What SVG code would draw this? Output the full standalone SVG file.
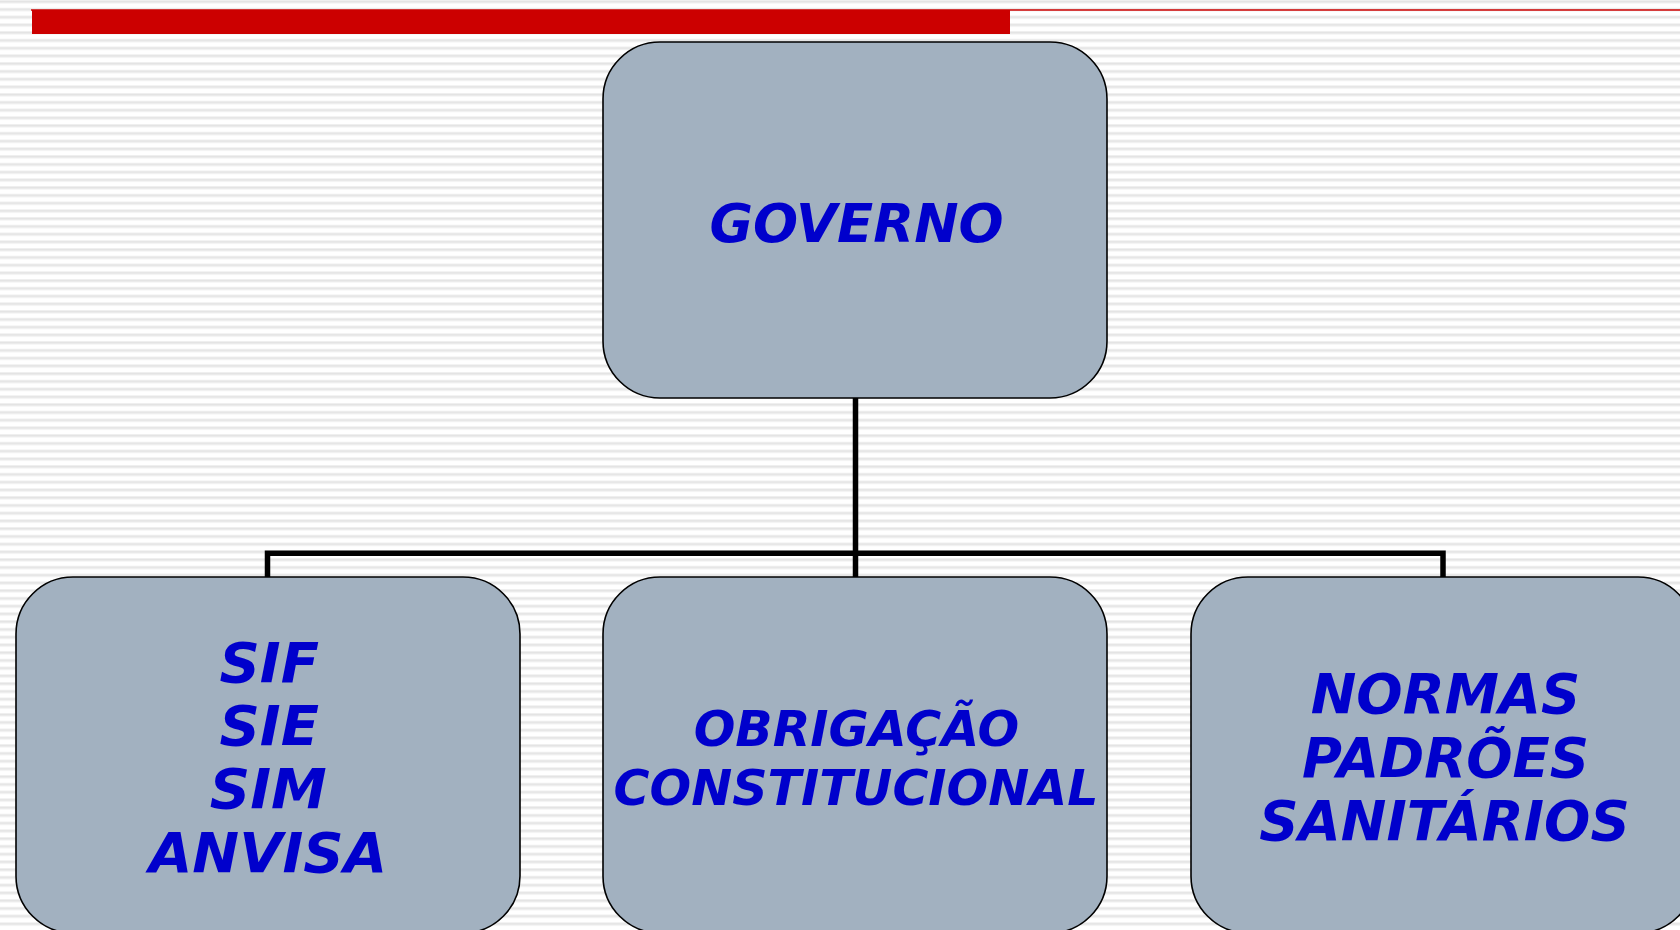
<svg xmlns="http://www.w3.org/2000/svg" width="1680" height="930" viewBox="0 0 1680 930">
  <defs>
    <pattern id="stripes" x="0" y="0" width="16" height="7.75" patternUnits="userSpaceOnUse">
      <rect x="0" y="0" width="16" height="7.75" fill="#ffffff"/>
      <rect x="0" y="0.2" width="16" height="1" fill="#ececec"/>
      <rect x="0" y="1.2" width="16" height="1.4" fill="#dedede"/>
      <rect x="0" y="2.6" width="16" height="0.8" fill="#efefef"/>
    </pattern>
    <style>
      .box { fill: #A2B1C0; stroke: #000000; stroke-width: 1.6; }
      .lbl { font-family: "DejaVu Sans", Verdana, sans-serif; font-weight: bold; font-style: italic; fill: #0000CC; text-anchor: middle; }
      .conn { fill: none; stroke: #000000; stroke-width: 5.5; stroke-linejoin: miter; stroke-linecap: butt; }
    </style>
  </defs>

  <rect x="0" y="0" width="1680" height="930" fill="url(#stripes)"/>

  <g id="header">
    <line x1="31" y1="10" x2="1680" y2="10" stroke="#CC0000" stroke-width="1.3"/>
    <rect x="32" y="10" width="978" height="24" fill="#CC0000"/>
  </g>

  <g id="connectors">
    <path class="conn" d="M855.5,398 V553.3"/>
    <path class="conn" d="M267.5,577 V553.3 H1443 V577"/>
    <path class="conn" d="M855.5,553.3 V577"/>
  </g>

  <g id="node-governo">
    <rect class="box" x="603" y="42" width="504" height="356" rx="57" ry="57"/>
    <text class="lbl" x="856.5" y="242" font-size="53">GOVERNO</text>
  </g>

  <g id="node-sif">
    <rect class="box" x="16" y="577" width="504" height="356" rx="57" ry="57"/>
    <text class="lbl" font-size="56">
      <tspan x="279" y="682">SIF</tspan>
      <tspan x="279" y="745">SIE</tspan>
      <tspan x="278" y="808">SIM</tspan>
      <tspan x="268" y="872">ANVISA</tspan>
    </text>
  </g>

  <g id="node-obrigacao">
    <rect class="box" x="603" y="577" width="504" height="356" rx="57" ry="57"/>
    <text class="lbl" font-size="49">
      <tspan x="865" y="746">OBRIGAÇÃO</tspan>
      <tspan x="856" y="805">CONSTITUCIONAL</tspan>
    </text>
  </g>

  <g id="node-normas">
    <rect class="box" x="1191" y="577" width="504" height="356" rx="57" ry="57"/>
    <text class="lbl" font-size="54.5">
      <tspan x="1455" y="713">NORMAS</tspan>
      <tspan x="1455" y="777">PADRÕES</tspan>
      <tspan x="1444.5" y="840">SANITÁRIOS</tspan>
    </text>
  </g>
</svg>
